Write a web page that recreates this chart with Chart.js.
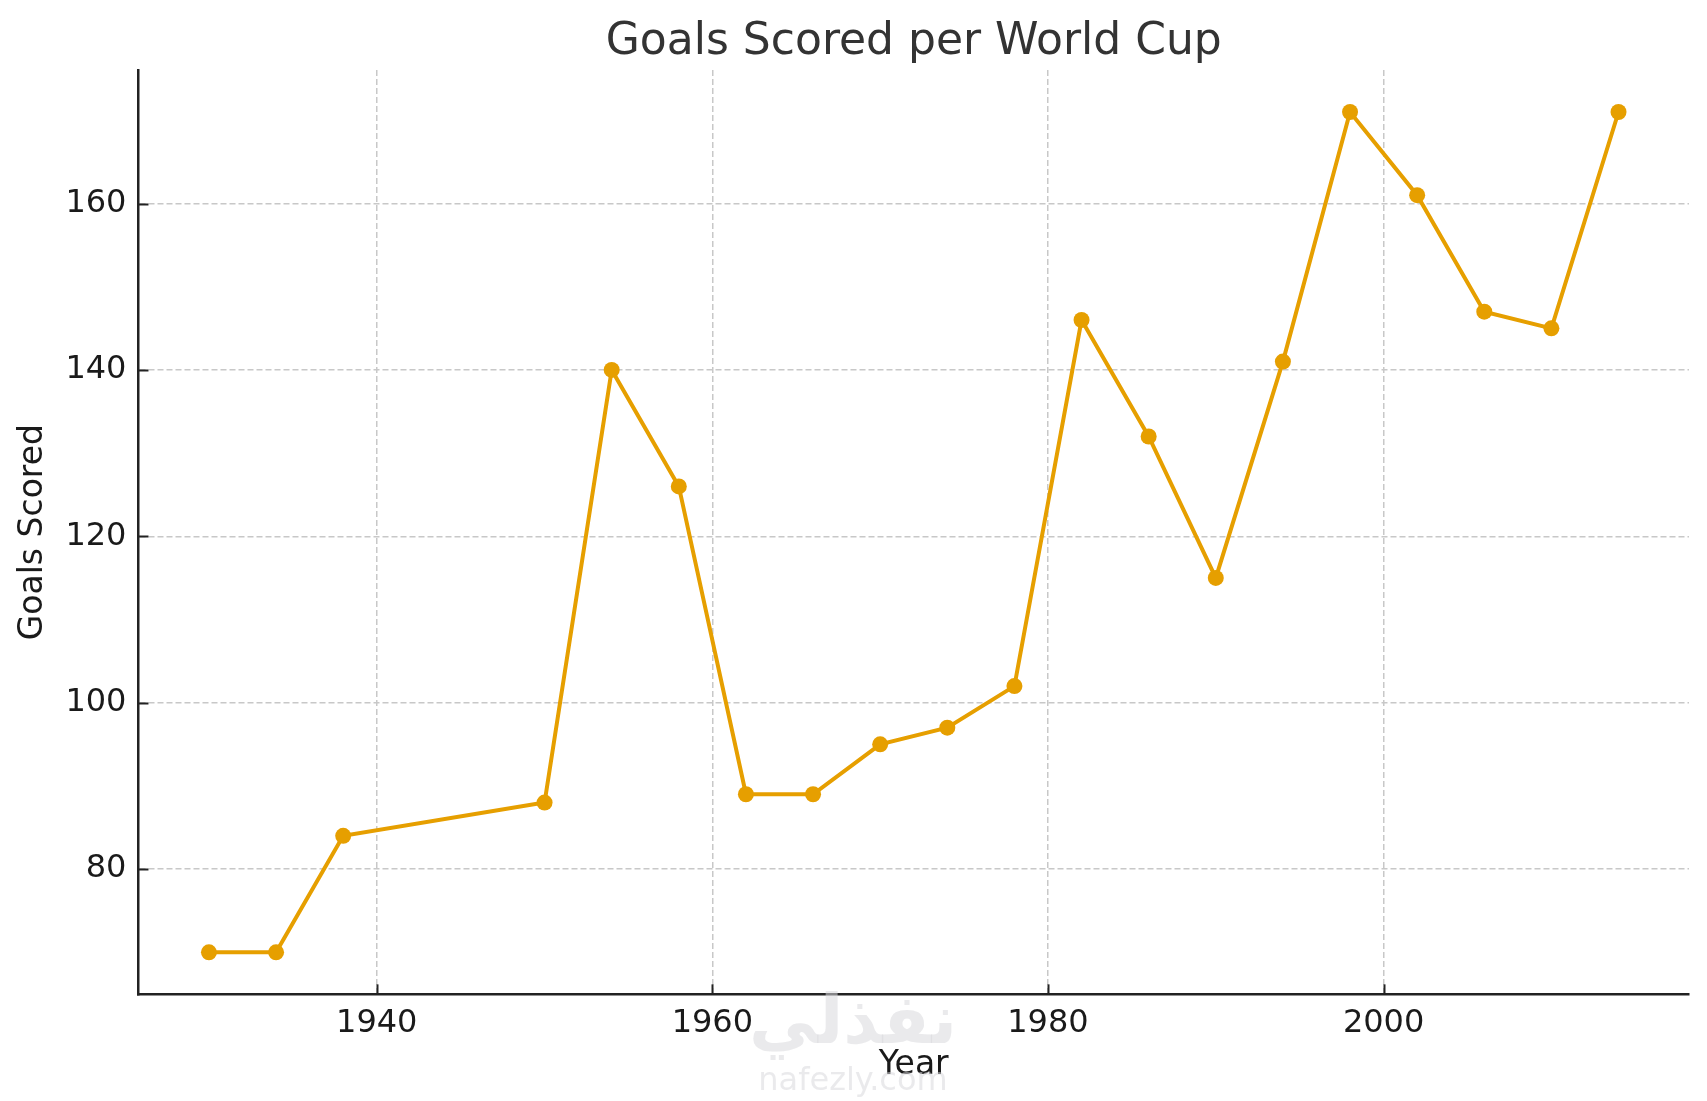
<!DOCTYPE html>
<html>
<head>
<meta charset="utf-8">
<script src="https://cdn.jsdelivr.net/npm/chart.js@4"></script>
<style>
  html, body { margin: 0; padding: 0; background: #ffffff; }
  #wrap { width: 1707px; height: 1101px; position: relative; }
</style>
</head>
<body>
<div id="wrap"><canvas id="c" width="1707" height="1101"></canvas></div>
<script>
const years = [1930, 1934, 1938, 1950, 1954, 1958, 1962, 1966, 1970, 1974, 1978, 1982, 1986, 1990, 1994, 1998, 2002, 2006, 2010, 2014];
const goals = [70, 70, 84, 88, 140, 126, 89, 89, 95, 97, 102, 146, 132, 115, 141, 171, 161, 147, 145, 171];
const xTicks = [1940, 1960, 1980, 2000];
const yTicks = [80, 100, 120, 140, 160];
const titleText = 'Goals Scored per World Cup';
const xLabel = 'Year';
const yLabel = 'Goals Scored';
const watermarkAr = 'نفذلي';
const watermarkEn = 'nafezly.com';

const FONT = 'DejaVu Sans';
const points = years.map((y, i) => ({ x: y, y: goals[i] }));

const extras = {
  id: 'extras',
  afterDatasetsDraw(chart) {
    const ctx = chart.ctx;
    const xs = chart.scales.x, ys = chart.scales.y;
    const a = chart.chartArea;
    ctx.save();
    ctx.strokeStyle = '#222';
    ctx.lineWidth = 2;
    xTicks.forEach(v => {
      const px = Math.round(xs.getPixelForValue(v)) + 0.5;
      ctx.beginPath(); ctx.moveTo(px, a.bottom); ctx.lineTo(px, a.bottom - 10); ctx.stroke();
    });
    yTicks.forEach(v => {
      const py = Math.round(ys.getPixelForValue(v)) + 0.5;
      ctx.beginPath(); ctx.moveTo(a.left, py); ctx.lineTo(a.left + 10, py); ctx.stroke();
    });
    ctx.restore();
  },
  afterDraw(chart) {
    const ctx = chart.ctx;
    const a = chart.chartArea;
    ctx.save();
    // title centred over the plot area
    ctx.fillStyle = '#333333';
    ctx.textAlign = 'center';
    ctx.textBaseline = 'alphabetic';
    ctx.font = '44px "DejaVu Sans"';
    ctx.fillText(titleText, (a.left + a.right) / 2, 54);
    // watermark
    ctx.globalAlpha = 0.55;
    ctx.fillStyle = '#d8d8dc';
    ctx.textBaseline = 'middle';
    ctx.font = 'bold 68px "DejaVu Sans"';
    ctx.fillText(watermarkAr, 853, 1025);
    ctx.font = '32px "DejaVu Sans"';
    ctx.fillText(watermarkEn, 853, 1082);
    ctx.restore();
  }
};

new Chart(document.getElementById('c'), {
  type: 'line',
  data: {
    datasets: [{
      data: points,
      borderColor: '#E69F00',
      backgroundColor: '#E69F00',
      borderWidth: 4,
      pointRadius: 8,
      pointHoverRadius: 8,
      pointBackgroundColor: '#E69F00',
      pointBorderWidth: 0,
      tension: 0,
      fill: false
    }]
  },
  options: {
    responsive: false,
    animation: false,
    devicePixelRatio: 1,
    layout: { padding: { left: 17, right: 18, top: 70, bottom: 23.5 } },
    plugins: {
      legend: { display: false },
      tooltip: { enabled: false },
      title: { display: false }
    },
    scales: {
      x: {
        type: 'linear',
        min: 1925.8,
        max: 2018.2,
        afterBuildTicks: s => { s.ticks = xTicks.map(v => ({ value: v })); },
        ticks: {
          color: '#1a1a1a',
          font: { family: FONT, size: 32 },
          padding: 10,
          maxRotation: 0,
          callback: v => String(v)
        },
        grid: {
          color: '#c8c8c8',
          lineWidth: 1.5,
          drawTicks: false
        },
        border: { display: true, color: '#222', width: 2.5, dash: [6, 3] },
        title: {
          display: true,
          text: xLabel,
          color: '#1a1a1a',
          font: { family: FONT, size: 33, lineHeight: 0.75 },
          padding: { top: 0, bottom: 0 }
        }
      },
      y: {
        type: 'linear',
        min: 64.95,
        max: 176.05,
        afterBuildTicks: s => { s.ticks = yTicks.map(v => ({ value: v })); },
        ticks: {
          color: '#1a1a1a',
          font: { family: FONT, size: 32 },
          padding: 12,
          callback: v => String(v)
        },
        grid: {
          color: '#c8c8c8',
          lineWidth: 1.5,
          drawTicks: false
        },
        border: { display: true, color: '#222', width: 2.5, dash: [6, 3] },
        title: {
          display: true,
          text: yLabel,
          color: '#1a1a1a',
          font: { family: FONT, size: 33, lineHeight: 1 },
          padding: { top: 0, bottom: 3.4 }
        }
      }
    }
  },
  plugins: [extras]
});
</script>
</body>
</html>
